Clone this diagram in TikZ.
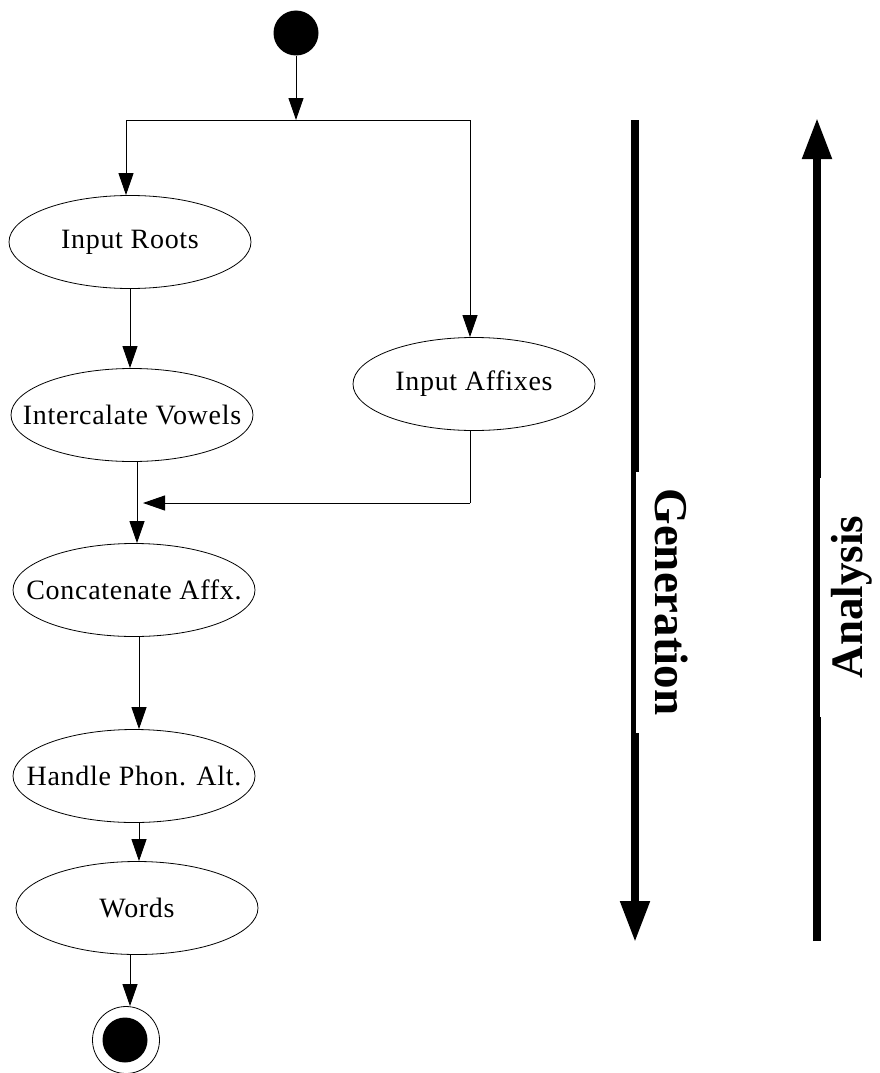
\documentclass[tikz,border=0pt]{standalone}
\usepackage{fontspec}
\setmainfont{Liberation Serif}
\newfontfamily\nodefont[LetterSpace=2.5]{Liberation Serif}
\usetikzlibrary{shapes.geometric,arrows.meta,calc}
\newcommand{\acttext}[1]{\makebox[0pt][c]{#1}}
\begin{document}
\begin{tikzpicture}[x=1pt,y=-1pt,
  act/.style={ellipse,draw=black,line width=0.8pt,minimum width=242pt,minimum height=93pt,inner sep=0pt,font=\nodefont\fontsize{28}{30}\selectfont},
  flow/.style={line width=1pt,-{Triangle[length=22pt,width=15pt]}},
  plainline/.style={line width=1pt},
  bigarrow/.style={line width=8pt,-{Triangle[length=41pt,width=28pt]}},
  lab/.style={fill=white,inner sep=0pt,font=\bfseries\fontsize{47}{50}\selectfont},
  startdot/.style={circle,fill=black,minimum size=45pt,inner sep=0pt},
  enddot/.style={circle,draw=black,line width=0.8pt,minimum size=67pt,inner sep=0pt}
]
\useasboundingbox (0,0) rectangle (880,1073);

% activity nodes
\node[startdot] (start) at (296,33) {};
\node[act] (roots) at (130,242) {\acttext{Input Roots}};
\node[act] (vowels) at (132,415) {\acttext{Intercalate Vowels}};
\node[act] (affixes) at (474,384) {\acttext{Input Affixes}};
\node[act] (concat) at (134,590) {\acttext{Concatenate Affx.}};
\node[act] (phon) at (134,776) {\acttext{Handle Phon. Alt.}};
\node[act] (words) at (137,908) {\acttext{Words}};
\node[enddot] (final) at (126,1040) {};
\node[startdot] (finaldot) at (125,1040) {};

% fork
\coordinate (fork) at (296,120);
\coordinate (forkL) at (126,120);
\coordinate (forkR) at (470,120);
\draw[flow] (start) -- (fork);
\draw[plainline] (forkL) -- (forkR);
\draw[flow] (forkL) -- (forkL |- roots.north);
\draw[flow] (forkR) -- (forkR |- affixes.north);

% left chain
\draw[flow] (roots.south) -- (roots.south |- vowels.north);
\coordinate (vx) at (137,0);
\draw[flow] (vx |- vowels.south) -- (vx |- concat.north);
\coordinate (ax) at (470,0);
\coordinate (ajoin) at (470,503);
\coordinate (jtip) at (143,503);
\draw[plainline] (ax |- affixes.south) -- (ajoin);
\draw[flow] (ajoin) -- (jtip);
\coordinate (cx) at (139,0);
\draw[flow] (cx |- concat.south) -- (cx |- phon.north);
\draw[flow] (cx |- phon.south) -- (cx |- words.north);
\coordinate (wx) at (130,0);
\draw[flow] (wx |- words.south) -- (wx |- final.north);

% big arrows
\coordinate (gtop) at (635,120);
\coordinate (gbot) at (635,942);
\coordinate (abot) at (817,941);
\coordinate (atop) at (817,118);
\draw[bigarrow] (gtop) -- (gbot);
\draw[bigarrow] (abot) -- (atop);
\node[lab,rotate=-90,minimum width=261pt,minimum height=72pt] (gen) at (672,602) {Generation};
\node[lab,rotate=90,minimum width=239pt,minimum height=64pt,font=\bfseries\fontsize{45}{48}\selectfont] (ana) at (852,597) {Analysis};
\end{tikzpicture}
\end{document}
